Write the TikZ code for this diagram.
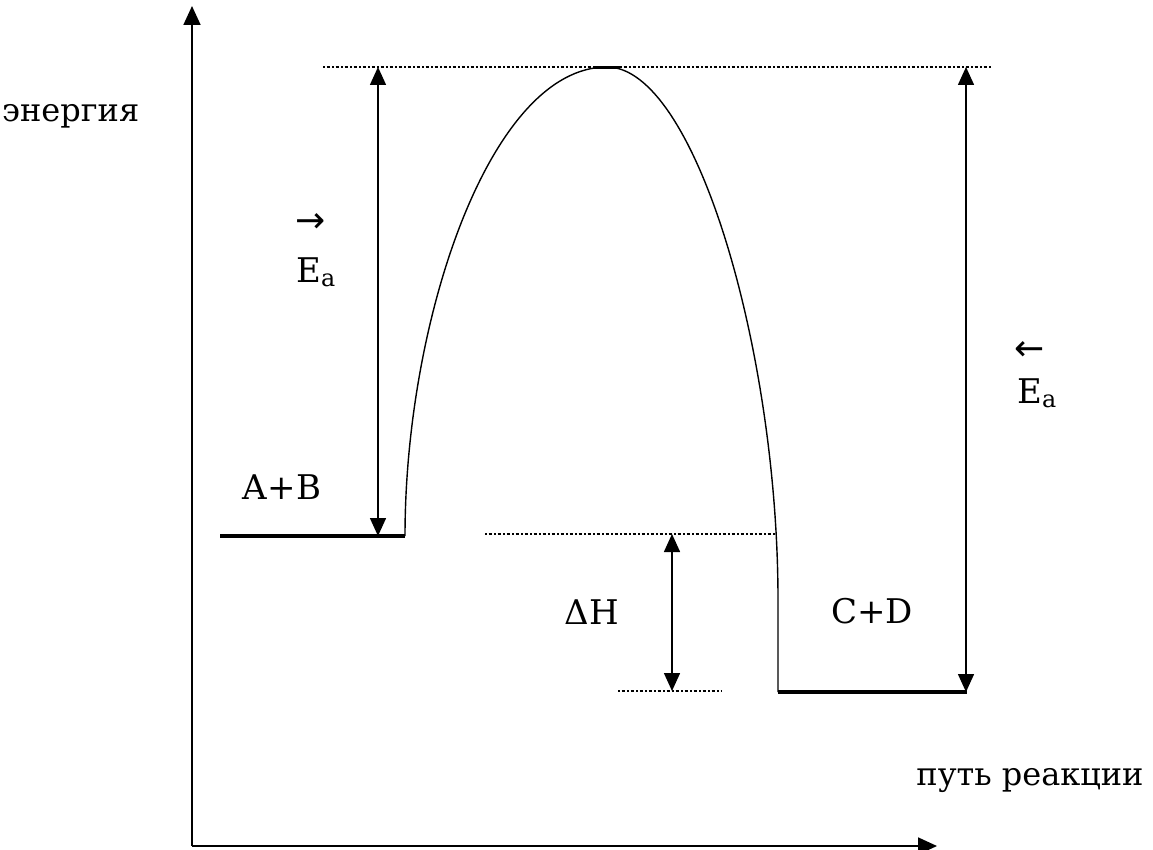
\documentclass[tikz,border=0pt]{standalone}
\usepackage{fontspec}
\setmainfont{DejaVu Serif}
\newfontfamily\symfont{DejaVu Sans}
\usetikzlibrary{arrows.meta}
\begin{document}
\begin{tikzpicture}[x=1pt,y=-1pt,
  axis/.style={line width=1.8pt,-{Triangle[width=17pt,length=19pt]}},
  dbl/.style={line width=1.5pt,{Triangle[width=16pt,length=18pt]}-{Triangle[width=16pt,length=18pt]}},
  guide/.style={line width=1.3pt,dash pattern=on 1.5pt off 2pt on 3.5pt off 2pt},
  level/.style={line width=4pt},
  curve/.style={line width=1.4pt},
  lbl/.style={font=\fontsize{34}{40}\selectfont,inner sep=0pt,anchor=base},
  cyr/.style={font=\fontsize{32}{38}\selectfont,inner sep=0pt,anchor=base},
  arr/.style={font=\symfont\fontsize{36}{40}\selectfont,inner sep=0pt}]
\useasboundingbox (0,0) rectangle (1153,850);
% axes
\coordinate (O) at (192,846);
\coordinate (Ytop) at (192,6);
\coordinate (Xend) at (937,846);
\draw[axis] (O) -- (Ytop);
\draw[axis] (O) -- (Xend);
% guide lines
\coordinate (Ttl) at (323,67);
\coordinate (Ttr) at (992,67);
\coordinate (Mdl) at (485,534);
\coordinate (Mdr) at (776,534);
\coordinate (Bdl) at (618,691);
\coordinate (Bdr) at (722,691);
\draw[guide] (Ttl) -- (Ttr);
\draw[guide] (Mdl) -- (Mdr);
\draw[guide] (Bdl) -- (Bdr);
% levels
\coordinate (ABl) at (220,536);
\coordinate (ABr) at (405,536);
\coordinate (CDl) at (778,692);
\coordinate (CDr) at (967,692);
\draw[level] (ABl) -- (ABr);
\draw[level] (CDl) -- (CDr);
% barrier curve
\coordinate (Pk) at (607,67);
\draw[curve] (ABr) .. controls (405,320) and (490,67) .. (Pk)
  .. controls (695,67) and (778,350) .. (778,600) -- (CDl);
\draw[line width=3pt] (594,67.5) -- (620,67.5);
% double arrows
\coordinate (E1t) at (378,67);
\coordinate (E1b) at (378,536);
\coordinate (E2t) at (966,67);
\coordinate (E2b) at (966,692);
\coordinate (Ht) at (672,534);
\coordinate (Hb) at (672,691);
\draw[dbl] (E1t) -- (E1b);
\draw[dbl] (E2t) -- (E2b);
\draw[dbl] (Ht) -- (Hb);
% labels
\node[cyr,anchor=base west] (en) at (2,122) {энергия};
\node[cyr] (path) at (1030,785) {путь реакции};
\node[lbl] (ab) at (282,499) {A+B};
\node[lbl] (dh) at (592,624) {ΔH};
\node[lbl] (cd) at (872,623) {C+D};
\node[lbl,anchor=base west] (ea1) at (296,282) {E\textsubscript{a}};
\node[arr] (ar1) at (311,223) {→};
\node[lbl,anchor=base west] (ea2) at (1017,403) {E\textsubscript{a}};
\node[arr] (ar2) at (1030,351) {←};
\end{tikzpicture}
\end{document}
